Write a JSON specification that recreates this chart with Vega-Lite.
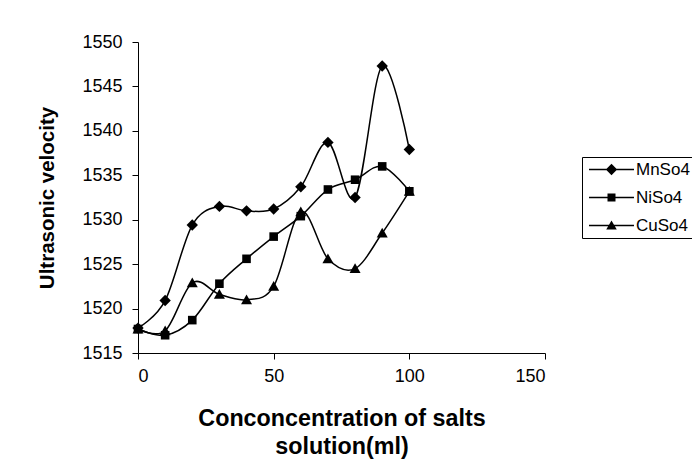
{
  "$schema": "https://vega.github.io/schema/vega-lite/v6.json",
  "width": 407,
  "height": 311,
  "autosize": {"type": "none"},
  "padding": {"left": 138, "top": 42, "right": 147, "bottom": 119},
  "background": "white",
  "config": {
    "view": {"stroke": null},
    "font": "Liberation Sans",
    "axis": {
      "domainColor": "black",
      "tickColor": "black",
      "labelColor": "black",
      "titleColor": "black",
      "labelFont": "Liberation Sans",
      "titleFont": "Liberation Sans",
      "labelFontSize": 18,
      "tickSize": 6,
      "grid": false,
      "domainWidth": 1,
      "tickWidth": 1
    }
  },
  "data": {
    "values": [
      {"c": 0, "v": 1517.8, "s": "MnSo4"},
      {"c": 10, "v": 1520.9, "s": "MnSo4"},
      {"c": 20, "v": 1529.4, "s": "MnSo4"},
      {"c": 30, "v": 1531.5, "s": "MnSo4"},
      {"c": 40, "v": 1531.0, "s": "MnSo4"},
      {"c": 50, "v": 1531.2, "s": "MnSo4"},
      {"c": 60, "v": 1533.7, "s": "MnSo4"},
      {"c": 70, "v": 1538.7, "s": "MnSo4"},
      {"c": 80, "v": 1532.5, "s": "MnSo4"},
      {"c": 90, "v": 1547.3, "s": "MnSo4"},
      {"c": 100, "v": 1537.9, "s": "MnSo4"},
      {"c": 0, "v": 1517.7, "s": "NiSo4"},
      {"c": 10, "v": 1517.0, "s": "NiSo4"},
      {"c": 20, "v": 1518.7, "s": "NiSo4"},
      {"c": 30, "v": 1522.8, "s": "NiSo4"},
      {"c": 40, "v": 1525.6, "s": "NiSo4"},
      {"c": 50, "v": 1528.1, "s": "NiSo4"},
      {"c": 60, "v": 1530.4, "s": "NiSo4"},
      {"c": 70, "v": 1533.4, "s": "NiSo4"},
      {"c": 80, "v": 1534.5, "s": "NiSo4"},
      {"c": 90, "v": 1536.0, "s": "NiSo4"},
      {"c": 100, "v": 1533.2, "s": "NiSo4"},
      {"c": 0, "v": 1517.7, "s": "CuSo4"},
      {"c": 10, "v": 1517.5, "s": "CuSo4"},
      {"c": 20, "v": 1522.9, "s": "CuSo4"},
      {"c": 30, "v": 1521.6, "s": "CuSo4"},
      {"c": 40, "v": 1521.0, "s": "CuSo4"},
      {"c": 50, "v": 1522.5, "s": "CuSo4"},
      {"c": 60, "v": 1530.9, "s": "CuSo4"},
      {"c": 70, "v": 1525.6, "s": "CuSo4"},
      {"c": 80, "v": 1524.5, "s": "CuSo4"},
      {"c": 90, "v": 1528.5, "s": "CuSo4"},
      {"c": 100, "v": 1533.2, "s": "CuSo4"}
    ]
  },
  "encoding": {
    "x": {
      "field": "c",
      "type": "quantitative",
      "scale": {"domain": [0, 150], "nice": false, "zero": false},
      "axis": {
        "values": [0, 50, 100, 150],
        "format": "d",
        "labelPadding": 8,
        "title": ["Conconcentration of salts", "solution(ml)"],
        "titleFontSize": 23.3,
        "titleFontWeight": "bold",
        "titleLineHeight": 28,
        "titleBaseline": "alphabetic",
        "titleY": 72
      }
    },
    "y": {
      "field": "v",
      "type": "quantitative",
      "scale": {"domain": [1515, 1550], "nice": false, "zero": false},
      "axis": {
        "values": [1515, 1520, 1525, 1530, 1535, 1540, 1545, 1550],
        "format": "d",
        "labelPadding": 10,
        "title": "Ultrasonic velocity",
        "titleFontSize": 20.5,
        "titleFontWeight": "bold",
        "titleAngle": 270,
        "titleBaseline": "alphabetic",
        "titleAlign": "center",
        "titleX": -85,
        "titleY": 155.5
      }
    }
  },
  "layer": [
    {
      "mark": {"type": "line", "interpolate": "cardinal", "color": "black", "strokeWidth": 1.5},
      "encoding": {"detail": {"field": "s"}}
    },
    {
      "mark": {"type": "point", "filled": true, "color": "black", "opacity": 1, "size": 100},
      "encoding": {
        "shape": {
          "field": "s",
          "scale": {
            "domain": ["MnSo4", "NiSo4", "CuSo4"],
            "range": [
              "M0,-1.14L1.14,0L0,1.14L-1.14,0Z",
              "M-0.86,-0.86H0.86V0.86H-0.86Z",
              "M0,-1.05L1.1,0.9H-1.1Z"
            ]
          },
          "legend": null
        }
      }
    },
    {
      "mark": {"type": "point", "filled": true, "color": "black", "opacity": 0, "size": 256},
      "encoding": {
        "shape": {
          "field": "s",
          "scale": {
            "domain": ["MnSo4", "NiSo4", "CuSo4"],
            "range": [
              "M-2.81,-0.08H2.81V0.08H-2.81Z M0,-0.71L0.71,0L0,0.71L-0.71,0Z",
              "M-2.81,-0.08H2.81V0.08H-2.81Z M-0.5,-0.5H0.5V0.5H-0.5Z",
              "M-2.81,-0.08H2.81V0.08H-2.81Z M0,-0.62L0.66,0.5H-0.66Z"
            ]
          },
          "legend": {
            "title": null,
            "orient": "none",
            "legendX": 444,
            "legendY": 115,
            "padding": 4,
            "strokeColor": "black",
            "symbolSize": 256,
            "symbolFillColor": "black",
            "symbolStrokeWidth": 0,
            "symbolOpacity": 1,
            "symbolOffset": 17,
            "labelOffset": 16,
            "rowPadding": 10,
            "labelFontSize": 17,
            "labelFont": "Liberation Sans",
            "labelColor": "black"
          }
        }
      }
    }
  ],
  "resolve": {"scale": {"shape": "independent"}}
}
